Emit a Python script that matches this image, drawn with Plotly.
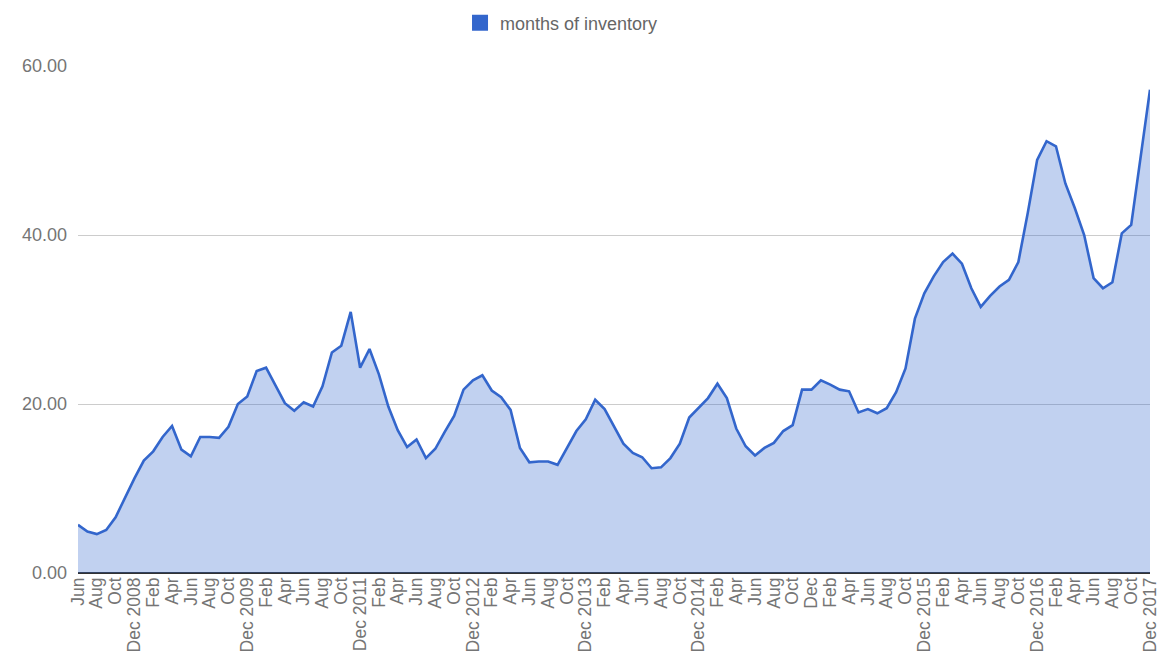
import plotly.graph_objects as go

# ---- data -------------------------------------------------------------
series_name = "months of inventory"

month_names = ["Jan", "Feb", "Mar", "Apr", "May", "Jun",
               "Jul", "Aug", "Sep", "Oct", "Nov", "Dec"]
# December labels exactly as they appear on the source chart
dec_labels = ["Dec 2008", "Dec 2009", "Dec 2011", "Dec 2012", "Dec 2013",
              "Dec 2014", "Dec", "Dec 2015", "Dec 2016", "Dec 2017"]

values_2008 = [5.7, 4.9, 4.6, 5.1, 6.6, 9.0, 11.2]                      # Jun-Dec
values_2009 = [13.3, 14.4, 16.1, 17.4, 14.6, 13.8, 16.1, 16.1, 16.0, 17.3, 20.0, 20.9]
values_2010 = [23.9, 24.3, 22.2, 20.1, 19.2, 20.2, 19.7, 22.1, 26.1, 26.9, 30.9, 24.3]
values_2011 = [26.5, 23.5, 19.7, 16.9, 14.9, 15.8, 13.6, 14.7, 16.7, 18.6, 21.7, 22.8]
values_2012 = [23.4, 21.6, 20.8, 19.3, 14.8, 13.1, 13.2, 13.2, 12.8, 14.8, 16.8, 18.2]
values_2013 = [20.5, 19.4, 17.4, 15.3, 14.2, 13.7, 12.4, 12.5, 13.6, 15.3, 18.4, 19.6]
values_2014 = [20.7, 22.4, 20.7, 17.1, 15.0, 13.9, 14.8, 15.4, 16.8, 17.5, 21.7, 21.7]
values_2015 = [22.8, 22.3, 21.7, 21.5, 19.0, 19.4, 18.9, 19.5, 21.4, 24.2, 30.1, 33.1]
values_2016 = [35.1, 36.8, 37.8, 36.6, 33.7, 31.5, 32.8, 33.9, 34.7, 36.8, 42.6, 48.9]
values_2017 = [51.1, 50.5, 46.1, 43.2, 40.0, 34.9, 33.7, 34.4, 40.2, 41.2, 49.1, 57.2]

y_ticks = [0, 20, 40, 60]

# ---- assemble ---------------------------------------------------------
values = (values_2008 + values_2009 + values_2010 + values_2011 + values_2012 +
          values_2013 + values_2014 + values_2015 + values_2016 + values_2017)

labels = []
dec_i = 0
for m in month_names[5:] + month_names * 9:
    if m == "Dec":
        labels.append(dec_labels[dec_i])
        dec_i += 1
    else:
        labels.append(m)

x = list(range(len(values)))
tick_idx = x[::2]
tick_txt = [labels[i] for i in tick_idx]

FONT = "Arial, 'Liberation Sans', sans-serif"
BLUE = "#3366CC"

fig = go.Figure()
fig.add_trace(go.Scatter(
    x=x, y=values, mode="lines", fill="tozeroy",
    line=dict(color=BLUE, width=2.6),
    fillcolor="rgba(51,102,204,0.30)",
    name=series_name, showlegend=False, hoverinfo="x+y",
))
# legend entry drawn as a solid square, like the source
fig.add_trace(go.Scatter(
    x=[None], y=[None], mode="markers",
    marker=dict(symbol="square", size=19, color=BLUE),
    name=series_name, showlegend=True,
))

# the page body adds an 8px offset, so the figure is sized to fit the window
fig.update_layout(
    width=1162, height=650,
    margin=dict(l=70, r=20, t=58, b=85, autoexpand=False),
    paper_bgcolor="white", plot_bgcolor="white",
    font=dict(family=FONT, size=18, color="#757575"),
    showlegend=True,
    legend=dict(
        orientation="h", xref="container", yref="container",
        x=0.389, xanchor="left", y=0.977, yanchor="middle",
        font=dict(family=FONT, size=18, color="#666666"),
        itemsizing="trace", bgcolor="rgba(0,0,0,0)",
    ),
    xaxis=dict(
        range=[0, len(values) - 1], automargin=False,
        tickmode="array", tickvals=tick_idx, ticktext=tick_txt,
        tickangle=-90, showgrid=False, zeroline=False, showline=False,
        ticks="", tickfont=dict(family=FONT, size=17.5, color="#757575"),
        fixedrange=True,
    ),
    yaxis=dict(
        range=[0, 60], tickmode="array", tickvals=y_ticks, tickformat=".2f",
        automargin=False,
        showgrid=True, gridcolor="#cccccc", gridwidth=1,
        zeroline=True, zerolinecolor="#333333", zerolinewidth=1.5,
        showline=False, ticks="", ticklabelstandoff=10,
        tickfont=dict(family=FONT, size=18, color="#757575"),
        fixedrange=True,
    ),
)

fig.write_html("out.html")
